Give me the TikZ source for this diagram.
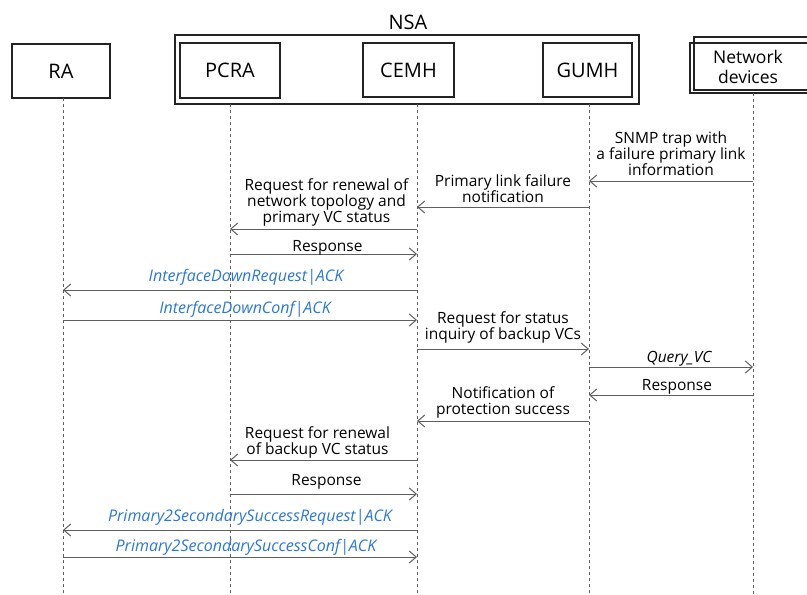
\documentclass[tikz,border=0pt]{standalone}
\usepackage{fontspec}
\setmainfont{Open Sans}
\usepackage{tikz}
\usetikzlibrary{arrows.meta, positioning}
\definecolor{mydark}{RGB}{35,35,35}
\definecolor{mygray}{RGB}{95,95,95}
\definecolor{myblue}{RGB}{40,120,215}
\tikzset{
  entity/.style={rectangle, draw=mydark, line width=2.2pt, align=center,
    inner sep=0pt, font=\fontsize{20}{21}\selectfont},
  group/.style={rectangle, draw=mydark, line width=1.6pt, inner sep=0pt},
  lifeline/.style={dash pattern=on 3pt off 3pt, color=mygray, line width=0.8pt},
  msg/.style={-{Straight Barb[length=7pt, width=12pt]}, color=mygray, line width=1pt},
  msgtext/.style={midway, above, align=center, inner sep=0pt, text depth=3pt,
    text=black, font=\fontsize{15.5}{16}\selectfont},
  apitext/.style={msgtext, text=myblue, font=\fontsize{16}{16}\selectfont\itshape}
}
\begin{document}
\begin{tikzpicture}[x=1pt, y=-1pt]
  \useasboundingbox (0,0) rectangle (807,595);
  % actors
  \node[group, minimum width=464pt, minimum height=69pt] (nsa) at (407,69.5) {};
  \node[font=\fontsize{20}{21}\selectfont] (nsalabel) at (408,22) {NSA};
  \node[entity, minimum width=98pt, minimum height=54pt] (ra) at (61,71) {RA};
  \node[entity, minimum width=100pt, minimum height=55pt] (pcra) at (230,70.5) {PCRA};
  \node[entity, minimum width=91pt, minimum height=54pt] (cemh) at (408.5,70) {CEMH};
  \node[entity, minimum width=89pt, minimum height=54pt] (gumh) at (587.5,70) {GUMH};
  \node[entity, minimum width=140pt, minimum height=50pt] (ndback) at (760,68) {};
  \node[entity, minimum width=120pt, minimum height=53pt] (nd) at (754,63.5) {};
  \node[align=center, font=\fontsize{17.5}{20}\selectfont] (ndlabel) at (748,67) {Network\\devices};
  % lifelines
  \coordinate (raL) at (63,98);
  \coordinate (pcraL) at (230,104);
  \coordinate (cemhL) at (417,104);
  \coordinate (gumhL) at (589,104);
  \coordinate (ndL) at (753,93);
  \foreach \l in {raL, pcraL, cemhL, gumhL, ndL}
    \draw[lifeline] (\l) -- (\l |- 0,595);
  % messages
  \draw[msg] (ndL |- 0,181) -- (gumhL |- 0,181)
    node[msgtext, yshift=2pt] {SNMP trap with\\a failure primary link\\information};
  \draw[msg] (gumhL |- 0,207) -- (cemhL |- 0,207)
    node[msgtext, yshift=1pt] {Primary link failure\\notification};
  \draw[msg] (cemhL |- 0,229) -- (pcraL |- 0,229)
    node[msgtext, xshift=3pt, yshift=3pt] {Request for renewal of\\network topology and\\primary VC status};
  \draw[msg] (pcraL |- 0,254) -- (cemhL |- 0,254)
    node[msgtext, xshift=4pt, yshift=-1pt] {Response};
  \draw[msg] (cemhL |- 0,290) -- (raL |- 0,290)
    node[apitext, xshift=6pt, yshift=5pt] {InterfaceDownRequest|ACK};
  \draw[msg] (raL |- 0,320) -- (cemhL |- 0,320)
    node[apitext, xshift=5pt, yshift=3pt] {InterfaceDownConf|ACK};
  \draw[msg] (cemhL |- 0,349) -- (gumhL |- 0,349)
    node[msgtext, yshift=6pt] {Request for status\\inquiry of backup VCs};
  \draw[msg] (gumhL |- 0,367) -- (ndL |- 0,367)
    node[msgtext, xshift=8pt, yshift=1pt, font=\fontsize{15.5}{16}\selectfont\itshape] {Query\_VC};
  \draw[msg] (ndL |- 0,395) -- (gumhL |- 0,395)
    node[msgtext, xshift=6pt, yshift=1pt] {Response};
  \draw[msg] (gumhL |- 0,421) -- (cemhL |- 0,421)
    node[msgtext, yshift=3pt] {Notification of\\protection success};
  \draw[msg] (cemhL |- 0,460) -- (pcraL |- 0,460)
    node[msgtext, xshift=-6pt, yshift=2pt] {Request for renewal\\of backup VC status};
  \draw[msg] (pcraL |- 0,494) -- (cemhL |- 0,494)
    node[msgtext, xshift=3pt, yshift=5pt] {Response};
  \draw[msg] (cemhL |- 0,530) -- (raL |- 0,530)
    node[apitext, xshift=10pt, yshift=5pt] {Primary2SecondarySuccessRequest|ACK};
  \draw[msg] (raL |- 0,557) -- (cemhL |- 0,557)
    node[apitext, xshift=6pt, yshift=2pt] {Primary2SecondarySuccessConf|ACK};
\end{tikzpicture}
\end{document}
